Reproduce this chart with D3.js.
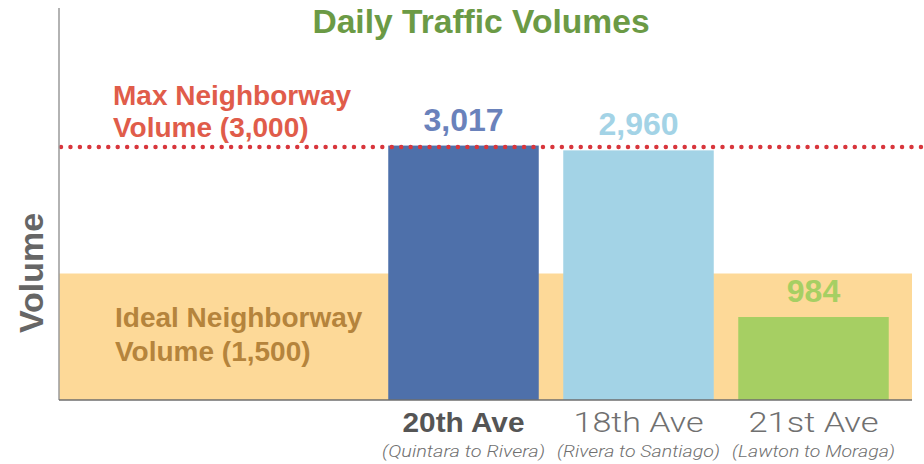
<!DOCTYPE html>
<html>
<head>
<meta charset="utf-8">
<script src="https://cdn.jsdelivr.net/npm/d3@7"></script>
<style>
  body { margin: 0; background: #fff; }
  .heavy { font-family: "Liberation Sans", Arial, sans-serif; font-weight: bold; }
  .light { font-family: "Roboto", "Liberation Sans", sans-serif; font-weight: 300; }
</style>
</head>
<body>
<div class="graph-goes-here"></div>
<script>
// chart data
var streets = ["20th Ave", "18th Ave", "21st Ave"];
var segments = ["(Quintara to Rivera)", "(Rivera to Santiago)", "(Lawton to Moraga)"];
var volumes = [3017, 2960, 984];
var valueLabels = ["3,017", "2,960", "984"];
var maxVolume = 3000;
var idealVolume = 1500;
var maxLabel = ["Max Neighborway", "Volume (3,000)"];
var idealLabel = ["Ideal Neighborway", "Volume (1,500)"];

var barColors = ["#4e70aa", "#a3d3e6", "#a6cf63"];
var labelColors = ["#6a82bb", "#a3d3e6", "#a6cf63"];

var width = 924, height = 464;

var svg = d3.select(".graph-goes-here")
    .append("svg")
    .attr("width", width)
    .attr("height", height);

// scales
var xScale = d3.scaleBand().domain(streets).range([376, 901]).paddingInner(0.14).paddingOuter(0.07);
var yScale = d3.scaleLinear().domain([0, maxVolume]).range([400, 147]);

var left = 59, right = 912;
var mid = d => xScale(d) + xScale.bandwidth() / 2;

// ideal band
svg.append("rect")
    .attr("x", left)
    .attr("y", yScale(idealVolume))
    .attr("width", right - left)
    .attr("height", yScale(0) - yScale(idealVolume))
    .attr("fill", "#fdd998");

// bars
svg.selectAll(".bar")
    .data(volumes)
    .enter().append("rect")
    .attr("class", "bar")
    .attr("x", (d, i) => xScale(streets[i]))
    .attr("y", d => yScale(d))
    .attr("width", xScale.bandwidth())
    .attr("height", d => yScale(0) - yScale(d))
    .attr("fill", (d, i) => barColors[i]);

// value labels
svg.selectAll(".val")
    .data(volumes)
    .enter().append("text")
    .attr("class", "heavy")
    .attr("x", (d, i) => mid(streets[i]))
    .attr("y", d => yScale(d) - 15)
    .attr("text-anchor", "middle")
    .attr("font-size", 32)
    .attr("fill", (d, i) => labelColors[i])
    .text((d, i) => valueLabels[i]);

// max dotted line
svg.append("line")
    .attr("x1", left + 2)
    .attr("x2", width)
    .attr("y1", yScale(maxVolume))
    .attr("y2", yScale(maxVolume))
    .attr("stroke", "#d8363c")
    .attr("stroke-width", 4.5)
    .attr("stroke-linecap", "round")
    .attr("stroke-dasharray", "0 9.45");

// axis lines
svg.append("line")
    .attr("x1", left).attr("x2", left)
    .attr("y1", 8).attr("y2", yScale(0))
    .attr("stroke", "#9a9a9a").attr("stroke-width", 1.5);

var xAxis = svg.append("g")
    .attr("transform", "translate(0," + yScale(0) + ")")
    .call(d3.axisBottom(xScale).tickSize(0).tickFormat(""));
xAxis.select(".domain").attr("d", "M" + left + ",0H" + right).attr("stroke", "#6e6e6e").attr("stroke-width", 1.5);

// category labels
svg.selectAll(".cat")
    .data(streets)
    .enter().append("text")
    .attr("class", (d, i) => i == 0 ? "heavy" : "light")
    .attr("x", d => mid(d))
    .attr("y", 432)
    .attr("text-anchor", "middle")
    .attr("font-size", (d, i) => i == 0 ? 28 : 27)
    .attr("textLength", (d, i) => i == 0 ? 122 : 130)
    .attr("lengthAdjust", "spacingAndGlyphs")
    .attr("fill", (d, i) => i == 0 ? "#555" : "#707070")
    .text(d => d);

svg.selectAll(".seg")
    .data(segments)
    .enter().append("text")
    .attr("class", "light")
    .attr("x", (d, i) => mid(streets[i]))
    .attr("y", 457)
    .attr("text-anchor", "middle")
    .attr("font-size", 16.5)
    .attr("font-style", "italic")
    .attr("textLength", 163)
    .attr("lengthAdjust", "spacingAndGlyphs")
    .attr("fill", "#707070")
    .text(d => d);

// annotations
function AddLines(lines, x, y0, dy, color) {
    svg.append("g").selectAll("text")
        .data(lines)
        .enter().append("text")
        .attr("class", "heavy")
        .attr("x", x)
        .attr("y", (d, i) => y0 + i * dy)
        .attr("font-size", 28)
        .attr("fill", color)
        .text(d => d);
}
AddLines(maxLabel, 113, 105, 32, "#e05c4a");
AddLines(idealLabel, 115, 327, 34, "#b5843c");

// title
svg.append("text")
    .attr("class", "heavy")
    .attr("x", 481)
    .attr("y", 33)
    .attr("text-anchor", "middle")
    .attr("font-size", 33.6)
    .attr("fill", "#6b9a45")
    .text("Daily Traffic Volumes");

// y axis title
svg.append("text")
    .attr("class", "heavy")
    .attr("transform", "translate(43,273) rotate(-90)")
    .attr("text-anchor", "middle")
    .attr("font-size", 34)
    .attr("textLength", 120)
    .attr("lengthAdjust", "spacingAndGlyphs")
    .attr("fill", "#666")
    .text("Volume");
</script>
</body>
</html>
